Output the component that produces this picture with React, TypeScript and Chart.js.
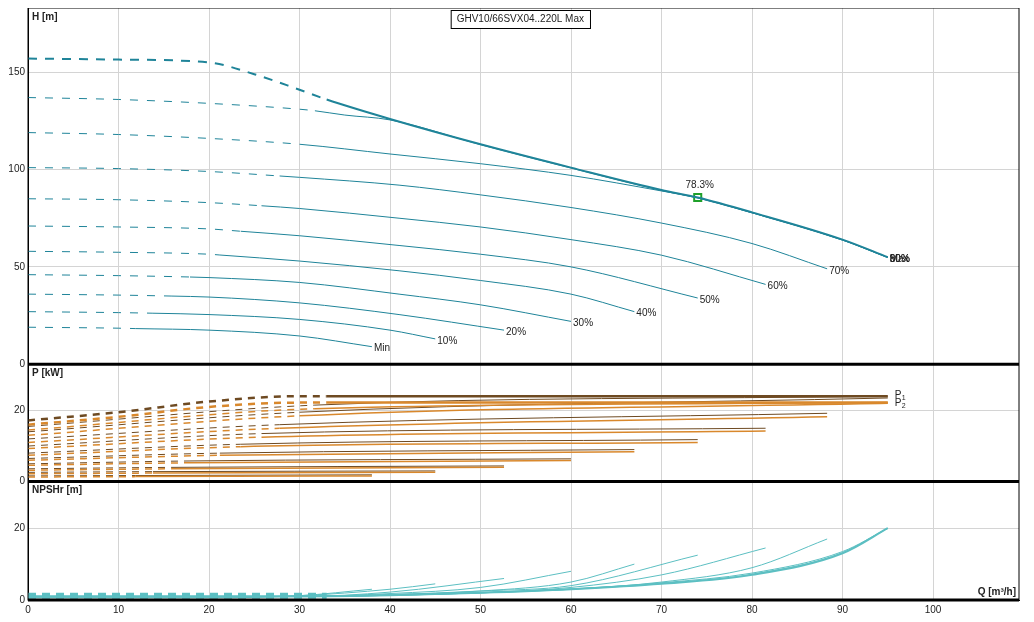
import React from 'react'
import { Chart, registerables } from 'chart.js'

Chart.register(...registerables)

const curveNames = ['Max', '90%', '80%', '70%', '60%', '50%', '40%', '30%', '20%', '10%', 'Min']
const endLabels = ['Max', '90%', '80%', '70%', '60%', '50%', '40%', '30%', '20%', '10%', 'Min']
const dashEnds = [33, 31.7, 30, 27.8, 25.8, 23.5, 21.2, 17.9, 15.9, 13.8, 11.9]

const hQ = [
  [0, 10, 20, 25, 30, 33, 40, 50, 60, 70, 74, 80, 90, 95],
  [0, 10, 20, 30, 31.7, 35, 40, 50, 60, 70, 74, 80, 90, 95],
  [0, 10, 20, 30, 40, 50, 60, 70, 74, 80, 90, 95],
  [0, 10, 20, 27.8, 30, 41, 50, 60, 70, 80, 88.3],
  [0, 10, 20, 25.8, 30, 41, 50, 60, 70, 81.5],
  [0, 10, 20, 23.5, 30, 41, 50, 60, 74],
  [0, 10, 20, 21.2, 30, 41, 50, 60, 67],
  [0, 10, 17.9, 20, 30, 41, 50, 60],
  [0, 10, 15.9, 20, 30, 41, 52.6],
  [0, 10, 13.8, 20, 30, 40, 45],
  [0, 10, 11.9, 20, 30, 38],
]
const hH = [
  [157, 156.5, 155, 149, 141, 136, 126, 113, 101, 89.5, 85.6, 78, 64, 55],
  [137, 136, 134, 131, 130.2, 128, 125.5, 112.8, 100.8, 89.3, 85.4, 77.8, 63.8, 54.8],
  [119, 118, 116, 113, 108, 103, 97, 89, 85.5, 77.8, 63.8, 54.8],
  [101, 100.5, 99, 96.7, 96, 92, 87, 80.5, 72.5, 62, 49],
  [85, 84.5, 83, 81.4, 80, 75, 70.5, 64, 56, 41],
  [71, 70.5, 69.5, 68.3, 66, 61, 56.5, 50, 34],
  [58, 57.5, 56.5, 56.1, 53, 48, 43, 36, 27],
  [46, 45.5, 44.8, 44.5, 42, 36, 30.5, 22],
  [36, 35.5, 35, 34.5, 31.5, 25.5, 17.5],
  [27, 26.5, 26.2, 25.5, 23, 17.5, 13],
  [19, 18.5, 18.3, 17.5, 14.5, 9],
]

// power: Q at start, dash end, end
const pQ = [
  [0, 10, 20, 30, 33, 95],
  [0, 31.7, 95],
  [0, 30, 95],
  [0, 27.8, 88.3],
  [0, 25.8, 81.5],
  [0, 23.5, 74],
  [0, 21.2, 67],
  [0, 17.9, 60],
  [0, 15.9, 52.6],
  [0, 13.8, 45],
  [0, 11.9, 38],
]
const p1 = [
  [17.2, 19.5, 22.5, 24, 24, 24],
  [15.5, 21.5, 24],
  [14, 19.5, 23.5],
  [12, 16, 19.2],
  [10, 13.5, 15],
  [8, 10.5, 11.8],
  [6.5, 8, 9],
  [5, 5.8, 6.4],
  [3.6, 4, 4.4],
  [2.6, 2.8, 3],
  [1.6, 1.7, 1.9],
]
const p2 = [
  [16, 18.2, 21, 22.2, 22.2, 22.2],
  [14.5, 20.5, 22.2],
  [13, 18.5, 22],
  [11, 15, 18.2],
  [9.3, 12.5, 14.2],
  [7.4, 9.8, 11],
  [6, 7.4, 8.4],
  [4.6, 5.3, 5.9],
  [3.2, 3.6, 4],
  [2.2, 2.4, 2.6],
  [1.3, 1.4, 1.6],
]

const nQ = [
  [0, 30, 40, 50, 60, 70, 80, 90, 95],
  [0, 30, 40, 50, 60, 70, 80, 90, 95],
  [0, 30, 40, 50, 60, 70, 80, 90, 95],
  [0, 30, 40, 50, 60, 70, 80, 88.3],
  [0, 30, 40, 50, 60, 70, 81.5],
  [0, 30, 40, 50, 60, 74],
  [0, 30, 40, 50, 60, 67],
  [0, 30, 40, 50, 60],
  [0, 30, 40, 52.6],
  [0, 20, 30, 40, 45],
  [0, 20, 30, 38],
]
const nH = [
  [1, 1, 1.3, 2, 3, 4.5, 7, 13, 20],
  [1, 1, 1.3, 2, 3, 4.6, 7.2, 13.2, 20],
  [1, 1, 1.3, 2.1, 3.1, 4.8, 7.5, 13.5, 20],
  [1, 1, 1.3, 2, 3, 5, 9, 17],
  [1, 1, 1.3, 2, 3.5, 7, 14.5],
  [1, 1, 1.5, 2.5, 4, 12.5],
  [1, 1, 1.5, 2.5, 5, 10],
  [1, 1, 1.8, 3.5, 8],
  [1, 1, 2.2, 6],
  [0.8, 0.8, 1.2, 3, 4.5],
  [0.6, 0.6, 1.2, 3],
]
const npshDashQ = [0, 33]
const npshDashH = [1.2, 1.2]

const dutyQ = 74
const dutyH = 85.6
const dutyLabel = '78.3%'
const xTicks = [0, 10, 20, 30, 40, 50, 60, 70, 80, 90, 100]

const teal = '#1f8499'
const brown = '#6e4a22'
const orange = '#d9882c'
const cyan = '#5cbfc2'
const font = 'Arial, "Liberation Sans", sans-serif'

const pts = (q: number[], v: number[]) => q.map((x, i) => ({ x, y: v[i] }))

const yScale = (max: number, step: number, weight: number) => ({
  type: 'linear' as const,
  position: 'left' as const,
  stack: 'panels',
  stackWeight: weight,
  min: 0,
  max,
  afterBuildTicks: (s: any) => {
    const t = []
    for (let v = 0; v <= max; v += step) t.push({ value: v })
    s.ticks = t
  },
  afterFit: (s: any) => { s.width = 20 },
  grid: { color: '#d4d4d4', drawTicks: false },
  border: { color: '#000', width: 1 },
  ticks: { color: '#222', font: { size: 10, family: font }, padding: 3 },
})

const dashSeg = (end: number, dash: number[]) => ({
  borderDash: (s: any) => (s.p1.parsed.x <= end + 0.05 ? dash : undefined),
})

const framePlugin = {
  id: 'frame',
  afterDraw: (c: any) => {
    const ctx = c.ctx
    const a = c.chartArea
    const xs = c.scales.x
    const yh = c.scales.yH
    const yp = c.scales.yP
    const yn = c.scales.yN
    ctx.save()
    // panel titles
    ctx.fillStyle = '#222'
    ctx.font = `bold 10px ${font}`
    ctx.textAlign = 'left'
    ctx.textBaseline = 'top'
    ctx.fillText('H [m]', a.left + 4, yh.top + 4)
    ctx.fillText('P [kW]', a.left + 4, yp.top + 4)
    ctx.fillText('NPSHr [m]', a.left + 4, yn.top + 4)
    ctx.textAlign = 'right'
    ctx.textBaseline = 'bottom'
    ctx.fillText('Q [m³/h]', a.right - 3, a.bottom - 3)
    // borders
    ctx.strokeStyle = '#000'
    ctx.lineWidth = 1
    ctx.strokeRect(a.left, a.top, a.right - a.left, a.bottom - a.top)
    ctx.lineWidth = 3
    ;[yh.bottom, yp.bottom, yn.bottom].forEach((y: number) => {
      ctx.beginPath()
      ctx.moveTo(a.left, y)
      ctx.lineTo(a.right, y)
      ctx.stroke()
    })
    // curve end labels
    ctx.lineWidth = 1
    ctx.font = `10px ${font}`
    ctx.textAlign = 'left'
    ctx.textBaseline = 'middle'
    curveNames.forEach((n, i) => {
      const q = hQ[i][hQ[i].length - 1]
      const h = hH[i][hH[i].length - 1]
      ctx.fillText(endLabels[i], xs.getPixelForValue(q) + 2, yh.getPixelForValue(h) + 2)
    })
    ctx.textAlign = 'center'
    ctx.fillText(dutyLabel, xs.getPixelForValue(dutyQ) + 2, yh.getPixelForValue(dutyH) - 12)
    // P1 / P2 labels
    ctx.textAlign = 'left'
    const px = xs.getPixelForValue(95) + 7
    ctx.fillText('P', px, yp.getPixelForValue(24.3))
    ctx.fillText('P', px, yp.getPixelForValue(22))
    ctx.font = `7px ${font}`
    ctx.fillText('1', px + 7, yp.getPixelForValue(23.5))
    ctx.fillText('2', px + 7, yp.getPixelForValue(21.2))
    // title box
    ctx.font = `10px ${font}`
    ctx.textAlign = 'center'
    const tt = 'GHV10/66SVX04..220L Max'
    const cx = xs.getPixelForValue(54.4)
    const w = ctx.measureText(tt).width + 12
    ctx.fillStyle = '#fff'
    ctx.fillRect(cx - w / 2, a.top + 2, w, 18)
    ctx.strokeRect(cx - w / 2 + 0.5, a.top + 2.5, w, 18)
    ctx.fillStyle = '#222'
    ctx.fillText(tt, cx, a.top + 11)
    ctx.restore()
  },
}

const App = () => {
  const ref = React.useRef<HTMLCanvasElement | null>(null)

  React.useEffect(() => {
    if (!ref.current) return
    const ds: any[] = []
    curveNames.forEach((n, i) => {
      ds.push({
        label: n + ' H',
        yAxisID: 'yH',
        data: pts(hQ[i], hH[i]),
        borderColor: teal,
        borderWidth: i === 0 ? 2 : 1,
        cubicInterpolationMode: 'monotone',
        segment: dashSeg(dashEnds[i], i === 0 ? [9, 8] : [8, 9]),
      })
    })
    ds.push({
      type: 'scatter',
      yAxisID: 'yH',
      data: [{ x: dutyQ, y: dutyH }],
      pointStyle: 'rect',
      pointRadius: 5,
      borderColor: '#1fa02a',
      borderWidth: 2,
      backgroundColor: 'rgba(0,0,0,0)',
    })
    curveNames.forEach((n, i) => {
      ds.push({
        label: n + ' P2',
        yAxisID: 'yP',
        data: pts(pQ[i], p2[i]),
        borderColor: orange,
        borderWidth: i === 0 ? 2.5 : 1.5,
        cubicInterpolationMode: 'monotone',
        segment: dashSeg(dashEnds[i], [7, 6]),
      })
      ds.push({
        label: n + ' P1',
        yAxisID: 'yP',
        data: pts(pQ[i], p1[i]),
        borderColor: brown,
        borderWidth: i === 0 ? 2.5 : 1,
        cubicInterpolationMode: 'monotone',
        segment: dashSeg(dashEnds[i], [7, 6]),
      })
    })
    curveNames.forEach((n, i) => {
      ds.push({
        label: n + ' NPSH',
        yAxisID: 'yN',
        data: pts(nQ[i], nH[i]),
        borderColor: cyan,
        borderWidth: i === 0 ? 2 : 1,
        cubicInterpolationMode: 'monotone',
      })
    })
    ds.push({
      yAxisID: 'yN',
      data: pts(npshDashQ, npshDashH),
      borderColor: cyan,
      borderWidth: 6,
      borderDash: [8, 6],
    })

    const chart = new Chart(ref.current, {
      type: 'line',
      data: { datasets: ds },
      options: {
        responsive: false,
        animation: false,
        parsing: false,
        layout: { padding: { right: 6, top: 0 } },
        plugins: { legend: { display: false }, tooltip: { enabled: false } },
        elements: { point: { radius: 0 } },
        scales: {
          x: {
            type: 'linear',
            min: 0,
            max: 109.5,
            afterBuildTicks: (s: any) => { s.ticks = xTicks.map((value) => ({ value })) },
            grid: { color: '#d4d4d4', drawTicks: false },
            border: { color: '#000', width: 1 },
            ticks: { color: '#222', font: { size: 10, family: font }, padding: 4, maxRotation: 0 },
          },
          yN: yScale(33, 20, 118),
          yP: yScale(33, 20, 117),
          yH: yScale(183, 50, 355),
        },
      } as any,
      plugins: [framePlugin],
    })
    return () => { chart.destroy() }
  }, [])

  return (
    <div style={{ width: 1018, marginTop: -9 }}>
      <canvas ref={ref} width={1018} height={621} style={{ display: 'block' }}></canvas>
    </div>
  )
}

export default App
